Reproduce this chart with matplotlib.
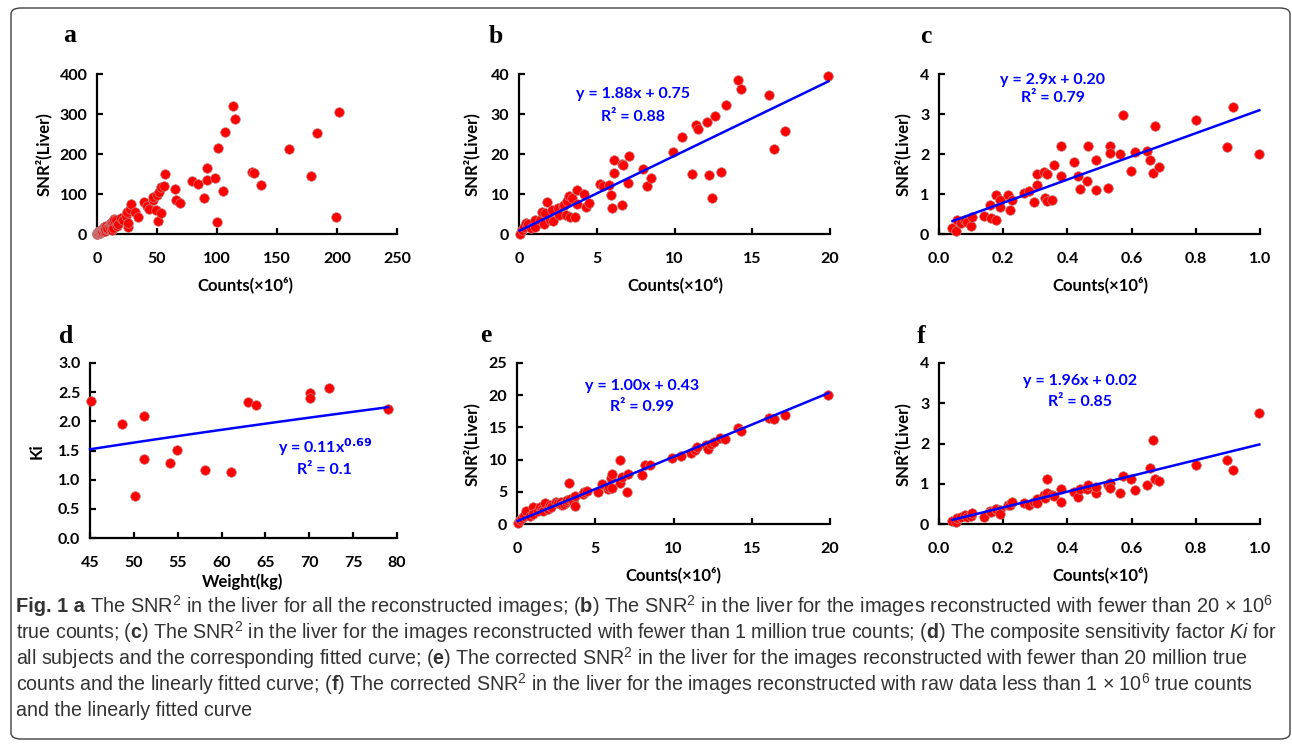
import numpy as np
import matplotlib
matplotlib.use("Agg")
import matplotlib.pyplot as plt
from matplotlib import font_manager
from matplotlib.patches import FancyBboxPatch
from matplotlib.ticker import FormatStrFormatter

# ----- data -----
# panel b (and e): images with fewer than 20 x 10^6 true counts
counts_b = [0.05, 0.2, 0.35, 0.45, 0.6, 0.8, 1.0, 1.0, 1.35, 1.5, 1.6, 1.65, 1.8, 2.0, 2.1, 2.2,
            2.5, 2.6, 2.8, 2.9, 3.0, 3.1, 3.2, 3.3, 3.4, 3.6, 3.7, 3.7, 4.2, 4.3, 4.5, 5.2,
            5.4, 5.8, 5.9, 6.0, 6.1, 6.1, 6.6, 6.6, 6.7, 7.0, 7.1, 8.0, 8.2, 8.5, 9.9, 10.5,
            11.1, 11.4, 11.5, 12.1, 12.2, 12.4, 12.6, 13.0, 13.3, 14.1, 14.3, 16.1, 16.4, 17.1, 19.9]
snr_b = [0.1, 1.0, 1.8, 2.7, 2.6, 1.6, 3.4, 1.8, 3.6, 5.6, 2.5, 5.2, 8.0, 3.6, 6.0, 3.2,
         6.5, 4.8, 6.9, 7.3, 4.8, 8.2, 9.4, 4.2, 9.0, 4.2, 10.9, 7.4, 9.9, 6.8, 7.8, 12.5,
         12.0, 12.3, 9.8, 6.6, 15.3, 18.4, 7.2, 17.4, 17.2, 12.8, 19.4, 16.2, 11.9, 14.0, 20.4, 24.3,
         15.1, 27.2, 26.3, 27.9, 14.8, 8.9, 29.6, 15.4, 32.2, 38.4, 36.2, 34.8, 21.2, 25.8, 39.5]
# panel e: corrected SNR^2 for the same images
snr_e = [0.1, 0.6, 1.0, 1.3, 2.0, 1.3, 2.6, 1.6, 2.0, 2.6, 2.4, 2.0, 3.2, 2.3, 2.9, 2.6,
         3.4, 3.3, 3.4, 3.0, 3.1, 3.4, 3.7, 6.4, 3.9, 3.6, 4.3, 2.8, 4.6, 4.9, 5.1, 5.0,
         6.2, 5.5, 5.7, 7.2, 5.6, 7.7, 6.3, 9.9, 7.3, 4.9, 7.7, 7.6, 9.2, 9.1, 10.3, 10.5,
         11.0, 11.5, 11.9, 12.2, 11.7, 12.5, 12.7, 13.3, 13.2, 14.9, 14.5, 16.5, 16.3, 16.9, 20.0]

# panel a: the remaining images above 20 x 10^6 counts (plus all of panel b)
counts_a_hi = [21.3, 24, 25, 25.6, 26, 27.8, 28.6, 32, 34, 39.4, 42, 43, 46.3, 47, 49, 50,
               50.6, 52, 53.4, 53.4, 56, 57, 64.7, 66, 69.4, 79.4, 84, 89, 92, 92, 98.6, 100,
               101, 105, 107, 113, 114.7, 129, 131, 137, 160, 178, 183, 199.4, 201.7]
snr_a_hi = [35, 45, 54, 17, 27, 62, 75, 55, 42, 79, 70, 62, 84, 92, 61, 98,
            32, 105, 52, 117, 119, 150, 112, 85, 78, 132, 125, 91, 164, 136, 140, 31,
            215, 108, 254, 320, 288, 156, 153, 122, 212, 145, 252, 42, 304]

# panel c (and f): fewer than 1 million true counts
counts_c = [0.042, 0.054, 0.057, 0.067, 0.08, 0.088, 0.1, 0.103, 0.14, 0.16, 0.163, 0.177,
            0.177, 0.189, 0.19, 0.215, 0.22, 0.228, 0.265, 0.28, 0.296, 0.306, 0.306, 0.327,
            0.33, 0.335, 0.335, 0.352, 0.358, 0.381, 0.381, 0.422, 0.434, 0.439, 0.46, 0.465,
            0.489, 0.489, 0.525, 0.534, 0.534, 0.564, 0.574, 0.597, 0.611, 0.647, 0.657, 0.667,
            0.673, 0.686, 0.80, 0.896, 0.917, 0.998]
snr_c = [0.15, 0.08, 0.35, 0.27, 0.35, 0.30, 0.21, 0.43, 0.45, 0.73, 0.39, 0.35,
         0.97, 0.86, 0.67, 0.98, 0.60, 0.85, 1.02, 1.08, 0.81, 1.50, 1.23, 1.54,
         0.90, 0.82, 1.51, 0.85, 1.72, 2.19, 1.45, 1.81, 1.46, 1.13, 1.33, 2.21,
         1.86, 1.10, 1.14, 2.21, 2.03, 1.99, 2.97, 1.57, 2.04, 2.08, 1.84, 1.53,
         2.71, 1.68, 2.86, 2.17, 3.18, 2.00]
snr_f = [0.07, 0.06, 0.15, 0.18, 0.22, 0.17, 0.19, 0.27, 0.18, 0.33, 0.29, 0.38,
         0.38, 0.36, 0.26, 0.48, 0.46, 0.54, 0.52, 0.46, 0.55, 0.62, 0.52, 0.72,
         0.65, 1.13, 0.78, 0.73, 0.70, 0.86, 0.54, 0.79, 0.68, 0.86, 0.86, 0.98,
         0.78, 0.92, 0.98, 1.01, 0.90, 0.76, 1.19, 1.13, 0.84, 0.96, 1.40, 2.09,
         1.13, 1.08, 1.46, 1.58, 1.33, 2.75]

# panel d: composite sensitivity factor vs weight
weight_d = [45.1, 48.7, 50.1, 51.1, 51.1, 54.1, 54.9, 58.1, 61.1, 63.0, 63.9, 70.1, 70.1, 72.3, 79.0]
ki_d = [2.35, 1.95, 0.72, 2.10, 1.35, 1.29, 1.51, 1.17, 1.14, 2.34, 2.28, 2.48, 2.40, 2.57, 2.21]

# fitted curves printed on the panels
fit_b = (1.88, 0.75)
fit_c = (2.9, 0.20)
fit_e = (1.00, 0.43)
fit_f = (1.96, 0.02)
fit_d = (0.11, 0.69)  # y = a * x ** b

caption_head = "Fig. 1 a"
caption_lines = [
    r"The SNR$^2$ in the liver for all the reconstructed images; ($\mathbf{b}$) The SNR$^2$ in the liver for the images reconstructed with fewer than 20 × 10$^6$",
    r"true counts; ($\mathbf{c}$) The SNR$^2$ in the liver for the images reconstructed with fewer than 1 million true counts; ($\mathbf{d}$) The composite sensitivity factor $\mathit{Ki}$ for",
    r"all subjects and the corresponding fitted curve; ($\mathbf{e}$) The corrected SNR$^2$ in the liver for the images reconstructed with fewer than 20 million true",
    r"counts and the linearly fitted curve; ($\mathbf{f}$) The corrected SNR$^2$ in the liver for the images reconstructed with raw data less than 1 × 10$^6$ true counts",
    r"and the linearly fitted curve",
]
# right end (px) of each caption line in the figure; last line follows the one before
caption_ends = [1268, 1272, 1246, 1252, None]

W, H = 1292, 747

names = {f.name for f in font_manager.fontManager.ttflist}
cap_font = "Liberation Sans Narrow" if "Liberation Sans Narrow" in names else "Liberation Sans"
tick_font = ["Lato", "DejaVu Sans"]

plt.rcParams["mathtext.fontset"] = "custom"
plt.rcParams["mathtext.rm"] = cap_font
plt.rcParams["mathtext.bf"] = cap_font + ":bold"
plt.rcParams["mathtext.it"] = cap_font + ":italic"

fig = plt.figure(figsize=(W / 100, H / 100), dpi=100)


def px_axes(left, top, right, bottom):
    return fig.add_axes([left / W, 1 - bottom / H, (right - left) / W, (bottom - top) / H])


def label_text(x, y, s, rot=0):
    fig.text(x / W, 1 - y / H, s, ha="center", va="center", rotation=rot,
             family=tick_font, fontweight="bold", fontsize=12)


def style(ax, xlim, ylim, xticks, yticks, xfmt=None, yfmt=None):
    ax.set_xlim(*xlim)
    ax.set_ylim(*ylim)
    ax.set_xticks(xticks)
    ax.set_yticks(yticks)
    if xfmt:
        ax.xaxis.set_major_formatter(FormatStrFormatter(xfmt))
    if yfmt:
        ax.yaxis.set_major_formatter(FormatStrFormatter(yfmt))
    for s in ["top", "right"]:
        ax.spines[s].set_visible(False)
    for s in ["left", "bottom"]:
        ax.spines[s].set_linewidth(1.6)
    ax.tick_params(direction="in", length=4, width=1.6)
    ax.tick_params(axis="x", pad=13)
    ax.tick_params(axis="y", pad=7)
    for lab in ax.get_xticklabels() + ax.get_yticklabels():
        lab.set_family(tick_font)
        lab.set_fontweight("bold")
        lab.set_fontsize(11.5)


def dots(ax, x, y):
    ax.scatter(x, y, s=48, c="#ff0000", edgecolors="#c08080", linewidths=0.5,
               zorder=3, clip_on=False)


def fit_line(ax, x, coef):
    xs = np.array([min(x), max(x)])
    ax.plot(xs, coef[0] * xs + coef[1], color="#0000ff", lw=1.8, zorder=4, clip_on=False)


EQ = dict(ha="center", va="center", color="#0000ff", family=tick_font,
          fontweight="bold", fontsize=11.5)


def eq_text(ax, fx, fy1, fy2, coef, r2, fmt):
    ax.text(fx, fy1, fmt.format(*coef), transform=ax.transAxes, **EQ)
    ax.text(fx, fy2, "R² = " + r2, transform=ax.transAxes, **EQ)


count_lab = "Counts(×10⁶)"
snr_lab = "SNR²(Liver)"

# a
ax = px_axes(97, 74, 397, 234)
dots(ax, counts_b + counts_a_hi, snr_b + snr_a_hi)
style(ax, (0, 250), (0, 400), range(0, 251, 50), range(0, 401, 100))
label_text(245, 285, count_lab)
label_text(44, 154, snr_lab, 90)

# b
ax = px_axes(519, 74, 830, 234)
dots(ax, counts_b, snr_b)
fit_line(ax, counts_b, fit_b)
eq_text(ax, 0.367, 0.875, 0.73, fit_b, "0.88", "y = {:.2f}x + {:.2f}")
style(ax, (0, 20), (0, 40), range(0, 21, 5), range(0, 41, 10))
label_text(675, 285, count_lab)
label_text(472, 154, snr_lab, 90)

# c
ax = px_axes(939, 74, 1260, 234)
dots(ax, counts_c, snr_c)
fit_line(ax, counts_c, fit_c)
eq_text(ax, 0.355, 0.965, 0.85, fit_c, "0.79", "y = {:.1f}x + {:.2f}")
style(ax, (0, 1.0), (0, 4), np.arange(0, 1.01, 0.2), range(0, 5), xfmt="%.1f")
label_text(1100, 285, count_lab)
label_text(903, 154, snr_lab, 90)

# d
ax = px_axes(90, 363, 397, 538)
dots(ax, weight_d, ki_d)
xs = np.linspace(min(weight_d) - 0.1, max(weight_d), 60)
ax.plot(xs, fit_d[0] * xs ** fit_d[1], color="#0000ff", lw=1.8, zorder=4, clip_on=False)
ax.text(0.765, 0.52, r"y = 0.11x$^{\mathbf{0.69}}$", transform=ax.transAxes,
        math_fontfamily="dejavusans", **EQ)
ax.text(0.765, 0.389, "R² = 0.1", transform=ax.transAxes, **EQ)
style(ax, (45, 80), (0, 3.0), range(45, 81, 5), np.arange(0, 3.01, 0.5), yfmt="%.1f")
label_text(243, 582, "Weight(kg)")
label_text(37, 451, "Ki", 90)

# e
ax = px_axes(517, 363, 830, 524)
dots(ax, counts_b, snr_e)
fit_line(ax, counts_b, fit_e)
eq_text(ax, 0.40, 0.857, 0.727, fit_e, "0.99", "y = {:.2f}x + {:.2f}")
style(ax, (0, 20), (0, 25), range(0, 21, 5), range(0, 26, 5))
label_text(673, 575, count_lab)
label_text(472, 444, snr_lab, 90)

# f
ax = px_axes(939, 363, 1260, 524)
dots(ax, counts_c, snr_f)
fit_line(ax, counts_c, fit_f)
eq_text(ax, 0.44, 0.888, 0.758, fit_f, "0.85", "y = {:.2f}x + {:.2f}")
style(ax, (0, 1.0), (0, 4), np.arange(0, 1.01, 0.2), range(0, 5), xfmt="%.1f")
label_text(1100, 575, count_lab)
label_text(903, 444, snr_lab, 90)

# panel letters
for letter, x, y in [("a", 70, 42), ("b", 496, 43), ("c", 926, 43),
                     ("d", 66, 343), ("e", 486, 342), ("f", 921, 343)]:
    fig.text(x / W, 1 - y / H, letter, ha="center", va="baseline", family="Liberation Serif",
             fontweight="bold", fontsize=18.5)

# caption box
box = FancyBboxPatch((11 / W, 1 - 739 / H), 1279 / W, 731 / H, transform=fig.transFigure,
                     boxstyle="round,pad=0,rounding_size=0.008", fill=False,
                     edgecolor="#404040", lw=1.0)
fig.patches.append(box)

x0 = 16
cap_kw = dict(ha="left", va="center", family=cap_font, color="#333333")
head = fig.text(x0 / W, 1 - 606 / H, caption_head, fontweight="bold", fontsize=13, **cap_kw)
cap_texts = []
for i, line in enumerate(caption_lines):
    t = fig.text(x0 / W, 1 - (606 + 26 * i) / H, line, fontsize=13, **cap_kw)
    cap_texts.append(t)


def space_px(size):
    return 0.278 * size * 100 / 72


# size each caption line so it ends where it ends in the figure
fig.canvas.draw()
r = fig.canvas.get_renderer()
size = 13
for i, (t, end) in enumerate(zip(cap_texts, caption_ends)):
    if end is not None:
        w = t.get_window_extent(r).width
        if i == 0:
            w += head.get_window_extent(r).width + space_px(13)
        size = 13 * (end - x0) / w
    t.set_fontsize(size)
    if i == 0:
        head.set_fontsize(size)

fig.canvas.draw()
hw = head.get_window_extent(r).width
cap_texts[0].set_x((x0 + hw + space_px(head.get_fontsize())) / W)

fig.savefig("out.png", dpi=100)
